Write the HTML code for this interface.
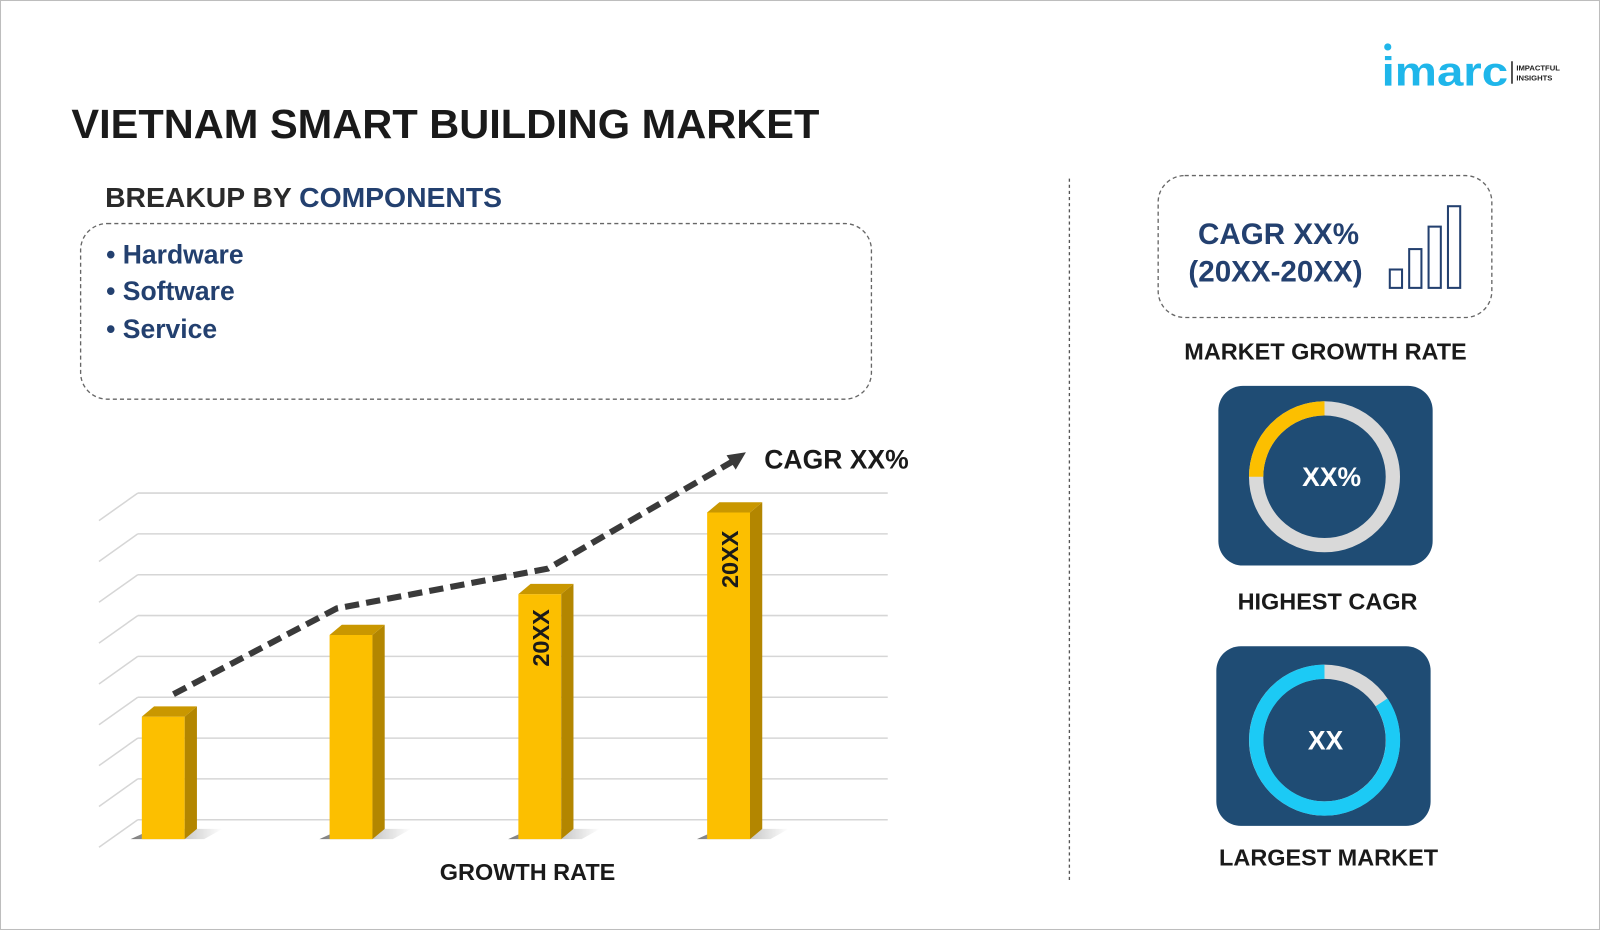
<!DOCTYPE html>
<html><head><meta charset="utf-8"><style>
html,body{margin:0;padding:0;background:#fff;}
svg{display:block;}
text{font-family:"Liberation Sans",Arial,sans-serif;font-weight:bold;}
</style></head><body>
<svg width="1600" height="930" viewBox="0 0 1568 911" preserveAspectRatio="none" xmlns="http://www.w3.org/2000/svg">
<rect x="0.5" y="0.5" width="1567" height="910" fill="#fff" stroke="#bdbdbd"/>
<!-- logo -->
<circle cx="1360" cy="46" r="3.5" fill="#1fb6ea"/>
<text x="1354" y="84" font-size="40" fill="#1fb6ea" textLength="124" lengthAdjust="spacingAndGlyphs">imarc</text>
<rect x="1481" y="60" width="1.5" height="22" fill="#222"/>
<text x="1486" y="69" font-size="7.5" fill="#222">IMPACTFUL</text>
<text x="1486" y="79" font-size="7.5" fill="#222">INSIGHTS</text>
<!-- title -->
<text x="70" y="135" font-size="40" fill="#1a1a1a" textLength="733" lengthAdjust="spacingAndGlyphs">VIETNAM SMART BUILDING MARKET</text>
<text x="103" y="203" font-size="27" fill="#2a2a2a" textLength="389" lengthAdjust="spacingAndGlyphs">BREAKUP BY <tspan fill="#23406f">COMPONENTS</tspan></text>
<rect x="79" y="219" width="775" height="172" rx="26" fill="none" stroke="#666" stroke-width="1.3" stroke-dasharray="4,3"/>
<text x="104" y="258" font-size="26" fill="#23406f">• Hardware</text>
<text x="104" y="294" font-size="26" fill="#23406f">• Software</text>
<text x="104" y="331" font-size="26" fill="#23406f">• Service</text>
<!-- divider -->
<line x1="1048" y1="175" x2="1048" y2="862" stroke="#555" stroke-width="1.3" stroke-dasharray="3,3"/>
<!-- grid -->
<g stroke="#d6d6d6" stroke-width="1.5" fill="none">
<path d="M135 483H870M135 483L97 510"/>
<path d="M135 523H870M135 523L97 550"/>
<path d="M135 563H870M135 563L97 590"/>
<path d="M135 603H870M135 603L97 630"/>
<path d="M135 643H870M135 643L97 670"/>
<path d="M135 683H870M135 683L97 710"/>
<path d="M135 723H870M135 723L97 750"/>
<path d="M135 763H870M135 763L97 790"/>
<path d="M135 803H870M135 803L97 830"/>
</g>
<!-- bars -->
<defs><linearGradient id="sh" x1="0" x2="1"><stop offset="0" stop-color="#444" stop-opacity=".7"/><stop offset="1" stop-color="#444" stop-opacity="0"/></linearGradient></defs>
<g>
<polygon points="128,822 200,822 218,812 150,812" fill="url(#sh)"/>
<polygon points="313,822 385,822 403,812 335,812" fill="url(#sh)"/>
<polygon points="498,822 570,822 588,812 520,812" fill="url(#sh)"/>
<polygon points="683,822 755,822 773,812 705,812" fill="url(#sh)"/>
</g>
<g>
<rect x="139" y="702" width="42" height="120" fill="#fcbf00"/>
<polygon points="181,702 193,692 193,812 181,822" fill="#b38600"/>
<polygon points="139,702 151,692 193,692 181,702" fill="#c99700"/>
<rect x="323" y="622" width="42" height="200" fill="#fcbf00"/>
<polygon points="365,622 377,612 377,812 365,822" fill="#b38600"/>
<polygon points="323,622 335,612 377,612 365,622" fill="#c99700"/>
<rect x="508" y="582" width="42" height="240" fill="#fcbf00"/>
<polygon points="550,582 562,572 562,812 550,822" fill="#b38600"/>
<polygon points="508,582 520,572 562,572 550,582" fill="#c99700"/>
<rect x="693" y="502" width="42" height="320" fill="#fcbf00"/>
<polygon points="735,502 747,492 747,812 735,822" fill="#b38600"/>
<polygon points="693,502 705,492 747,492 735,502" fill="#c99700"/>
</g>
<text transform="translate(538,653) rotate(-90)" font-size="23" fill="#1a1a1a">20XX</text>
<text transform="translate(723,576) rotate(-90)" font-size="23" fill="#1a1a1a">20XX</text>
<!-- trend -->
<polyline points="170,680 330,596 537,557 718,452" fill="none" stroke="#3a3a3a" stroke-width="6" stroke-dasharray="14,7"/>
<polygon points="731,443 712,446 721,460" fill="#3a3a3a"/>
<text x="749" y="459" font-size="26" fill="#1a1a1a">CAGR XX%</text>
<text x="431" y="862" font-size="23" fill="#1a1a1a">GROWTH RATE</text>
<!-- CAGR box -->
<rect x="1135" y="172" width="327" height="139" rx="26" fill="none" stroke="#666" stroke-width="1.3" stroke-dasharray="4,3"/>
<text x="1253" y="239" font-size="29" fill="#23406f" text-anchor="middle">CAGR XX%</text>
<text x="1250" y="276" font-size="29" fill="#23406f" text-anchor="middle">(20XX-20XX)</text>
<g fill="none" stroke="#23406f" stroke-width="2">
<rect x="1362" y="264" width="12" height="18"/>
<rect x="1381" y="244" width="12" height="38"/>
<rect x="1400" y="222" width="12" height="60"/>
<rect x="1419" y="202" width="12" height="80"/>
</g>
<text x="1299" y="352" font-size="23" fill="#1a1a1a" text-anchor="middle">MARKET GROWTH RATE</text>
<!-- highest cagr -->
<rect x="1194" y="378" width="210" height="176" rx="24" fill="#1f4c74"/>
<circle cx="1298" cy="467" r="67" fill="none" stroke="#d9d9d9" stroke-width="14"/>
<path d="M1298 400 A67 67 0 0 0 1231 467" fill="none" stroke="#fcbf00" stroke-width="14"/>
<text x="1305" y="476" font-size="26" fill="#fff" text-anchor="middle">XX%</text>
<text x="1301" y="597" font-size="23" fill="#1a1a1a" text-anchor="middle">HIGHEST CAGR</text>
<!-- largest market -->
<rect x="1192" y="633" width="210" height="176" rx="24" fill="#1f4c74"/>
<circle cx="1298" cy="725" r="67" fill="none" stroke="#d9d9d9" stroke-width="14"/>
<path d="M1354 688 A67 67 0 1 1 1298 658" fill="none" stroke="#1ccaf5" stroke-width="14"/>
<text x="1299" y="734" font-size="26" fill="#fff" text-anchor="middle">XX</text>
<text x="1302" y="848" font-size="23" fill="#1a1a1a" text-anchor="middle">LARGEST MARKET</text>
</svg>
</body></html>
